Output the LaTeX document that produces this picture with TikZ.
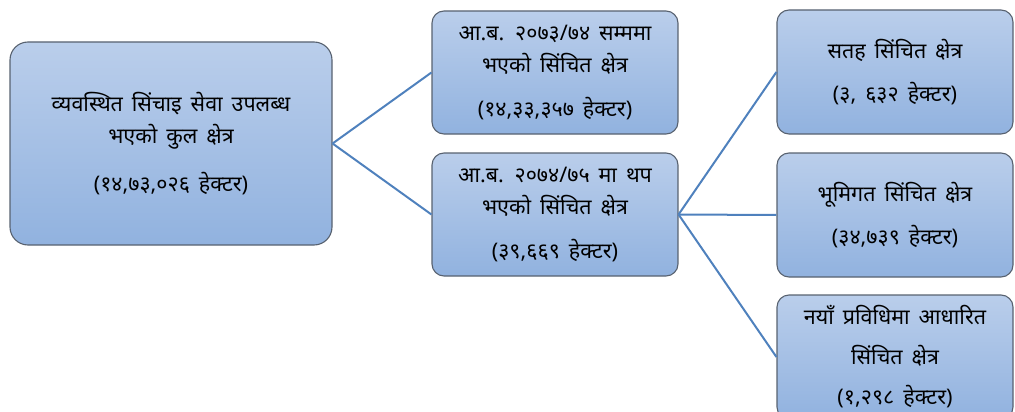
\documentclass[tikz,border=0pt]{standalone}
\usepackage{fontspec}
\newfontfamily\deva[Script=Devanagari,WordSpace=1.6]{Noto Sans}
\definecolor{linkblue}{RGB}{79,129,189}
\definecolor{boxtop}{RGB}{186,206,235}
\definecolor{boxbot}{RGB}{145,178,223}
\definecolor{boxline}{RGB}{88,98,112}
\begin{document}
\begin{tikzpicture}[x=1pt,y=1pt,
  box/.style={draw=boxline, line width=1.1pt, rounded corners=12pt,
    top color=boxtop, bottom color=boxbot, align=center,
    font=\deva\fontsize{21.5}{32}\selectfont, inner sep=0pt},
  link/.style={draw=linkblue, line width=2pt}]
\useasboundingbox (0,0) rectangle (1015,-412);
\node[box, rounded corners=18pt, minimum width=322pt, minimum height=203pt] (root) at (171,-143.5)
  {व्यवस्थित सिंचाइ सेवा उपलब्ध\\भएको कुल क्षेत्र\\[16pt](१४,७३,०२६ हेक्टर)};
\node[box, minimum width=246pt, minimum height=123pt] (prev) at (555,-72.5)
  {आ.ब. २०७३/७४ सम्ममा\\भएको सिंचित क्षेत्र\\[12pt](१४,३३,३५७ हेक्टर)};
\node[box, minimum width=246pt, minimum height=123pt] (added) at (555,-214.5)
  {आ.ब. २०७४/७५ मा थप\\भएको सिंचित क्षेत्र\\[12pt](३९,६६९ हेक्टर)};
\node[box, minimum width=236pt, minimum height=124pt, font=\deva\fontsize{21.5}{43}\selectfont] (surface) at (895,-72)
  {सतह सिंचित क्षेत्र\\(३, ६३२ हेक्टर)};
\node[box, minimum width=236pt, minimum height=124pt, font=\deva\fontsize{21.5}{43}\selectfont] (ground) at (895,-215)
  {भूमिगत सिंचित क्षेत्र\\(३४,७३९ हेक्टर)};
\node[box, minimum width=236pt, minimum height=124pt, font=\deva\fontsize{21.5}{40}\selectfont] (newtech) at (895,-357)
  {नयाँ प्रविधिमा आधारित\\सिंचित क्षेत्र\\(१,२९८ हेक्टर)};
\draw[link] (root.east) -- (prev.west);
\draw[link] (root.east) -- (added.west);
\draw[link] (added.east) -- (surface.west);
\draw[link] (added.east) -- (ground.west);
\draw[link] (added.east) -- (newtech.west);
\end{tikzpicture}
\end{document}
